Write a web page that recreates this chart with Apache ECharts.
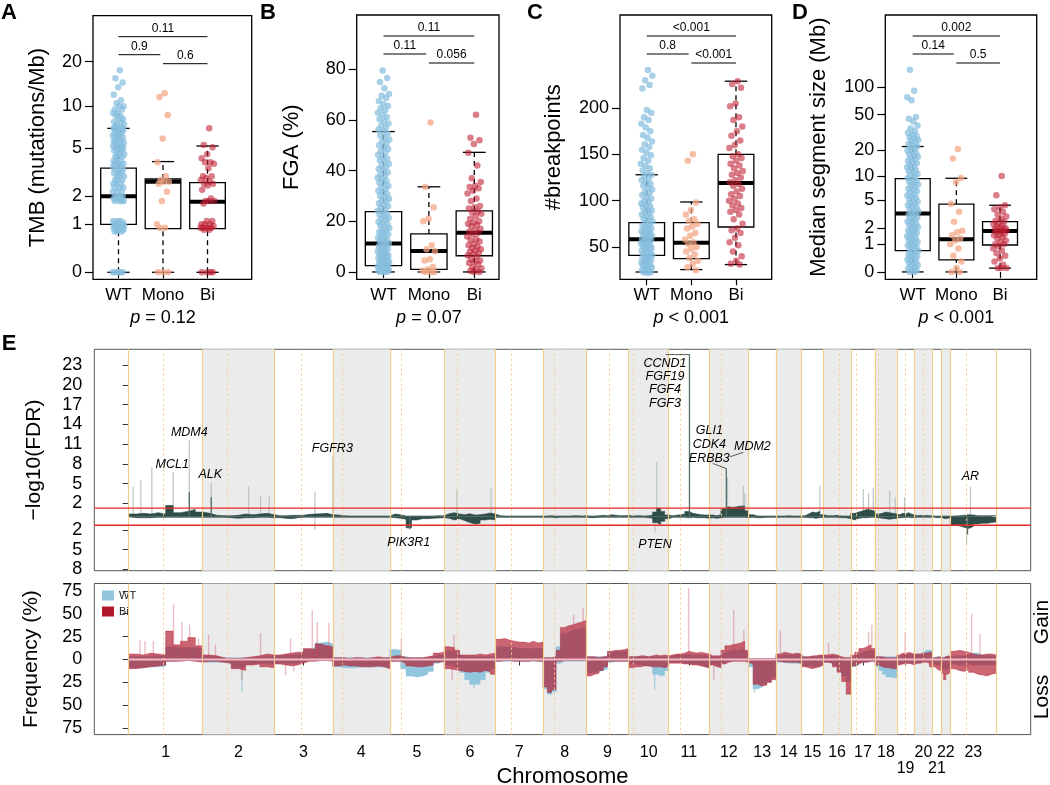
<!DOCTYPE html>
<html><head><meta charset="utf-8">
<script src="https://cdn.jsdelivr.net/npm/echarts@6/dist/echarts.min.js"></script>
<style>html,body{margin:0;padding:0;background:#fff}#c{width:1050px;height:785px}</style>
</head><body><div id="c"></div>
<script>
// ================= DATA =================
const groups = ['WT', 'Mono', 'Bi'];

// ---- Panel A: TMB (mutations/Mb) ----
const tmbTicks = [0, 1, 2, 5, 10, 20];
const tmbBox = [[0, 1.0, 2.0, 3.5, 7.0], [0, 0.88, 2.7, 2.85, 3.95], [0, 0.88, 1.77, 2.65, 5.2]];
const tmbWT = [17.5,15.5,14.5,13.5,12,11,10.5,10,10,9.5,9.5,9,9,8.6,8.6,8.2,8.2,7.8,7.8,7.5,7.5,7.2,7.2,7,7,7,
 6.8,6.8,6.8,6.5,6.5,6.5,6.2,6.2,6.2,6,6,6,5.7,5.7,5.7,5.5,5.5,5.5,5.2,5.2,5.2,5,5,5,4.8,4.8,4.8,4.5,4.5,4.5,
 4.3,4.3,4.3,4,4,4,3.8,3.8,3.8,3.6,3.6,3.6,3.4,3.4,3.4,3.2,3.2,3.2,3,3,3,2.8,2.8,2.8,2.6,2.6,2.6,2.4,2.4,2.4,
 2.2,2.2,2.2,2,2,2,2,1.9,1.9,1.9,1.8,1.8,1.8,1.8,1.1,1.1,1.1,1.05,1.05,1,1,1,1,0.95,0.95,0.95,0.9,0.9,0.9,0.9,
 0.85,0.85,0.85,0.8,0.8,0.8,0,0,0,0,0];
const tmbMono = [12.3,11.6,8.7,5.9,3.9,3.0,2.8,2.7,2.7,2.6,2.2,1.8,1.0,0.9,0.9,0,0,0];
const tmbBi = [7.0,5.3,5.1,4.5,4.2,3.9,3.9,3.8,3.5,3.0,3.0,2.9,2.8,2.7,2.6,2.6,2.5,2.3,1.9,1.8,1.8,1.8,1.7,1.1,1.1,1.0,1.0,1.0,0.95,0.9,0.9,0.9,0.9,0.9,0.85,0.85,0,0,0,0];
const tmbPairs = [['0.11', 1, 3], ['0.9', 1, 2], ['0.6', 2, 3]];

// ---- Panel B: FGA (%) ----
const fgaTicks = [0, 20, 40, 60, 80];
const fgaBox = [[0, 2.5, 11.2, 23.8, 55.4], [0, 1.0, 8.3, 15, 33.6], [0, 6.4, 15.5, 24.1, 47.2]];
const fgaWT = [0,0,0.1,0.3,0.4,0.6,0.8,1,1.1,1.3,1.6,1.8,2,2.2,2.5,2.7,3,3.2,3.5,3.8,4,4.3,4.6,4.9,5.2,5.5,5.8,6.1,6.4,6.8,
 7.1,7.5,7.8,8.2,8.6,9,9.3,9.7,10.1,10.5,10.9,11.3,11.8,12.2,12.6,13.1,13.5,14,14.4,14.9,15.4,15.8,16.3,16.8,17.3,17.8,
 18.3,18.8,19.3,19.8,20.4,20.9,21.4,22,22.5,23.1,23.6,24.2,24.8,25.3,25.9,26.5,27.1,27.7,28.3,28.9,29.5,30.1,30.7,31.4,
 32,32.6,33.3,33.9,34.6,35.2,35.9,36.5,37.2,37.9,38.5,39.2,39.9,40.6,41.3,42,42.7,43.4,44.1,44.8,45.5,46.3,47,47.7,48.5,
 49.2,50,50.7,51.5,52.3,53,53.8,54.6,55.4,56.2,57,57.8,58.6,59.5,60.3,61.1,62,62.8,63.7,64.6,65.5,66.3,67.5,68.6,69.5,
 70.2,72.5,75,76.5,79.5];
const fgaMono = [59,33.5,25.5,21,20,10.5,9,8.2,5,4.5,2,1,0.5,0,0,0];
const fgaBi = [62,53,52,50.5,47,42,37,35.5,34,33.5,33,32,31,29,28,26,25.5,25,24,23.5,23,22,21,20,19.5,19,18.5,18,17,16.5,16,15.5,15,14,13,12.5,12,11,10.5,10,9.5,9,8.5,8,7.5,7,6.5,6,5,4.5,4,3.5,3,2,1.5,1,0.5,0,0];
const fgaPairs = [['0.11', 1, 3], ['0.11', 1, 2], ['0.056', 2, 3]];

// ---- Panel C: #breakpoints ----
const bpTicks = [50, 100, 150, 200];
const bpBox = [[23, 41, 58.3, 76.3, 128], [25.6, 37.5, 54.7, 76.3, 98.6], [31, 71.6, 119, 150, 229]];
const bpWT = [22,22.5,23,24,25,26,27,28,29,30,31,32,33,34,35,36,37,38,39,40,41,42,43,44,45,46,47,48,49,50,51,52,53,54,55,
 56,57,58,59,60,61,62,63,64,65,66,67,68,69,70,71.5,73,74.5,76,77.5,79,80.5,82,83.5,85,86.5,88,89.5,91,92.5,94,95.5,97,
 98.5,100,102,104,106,108,110,112,114,116,118,120,122,124,126,128,130,132.5,135,137.5,140,143,146,149,152,155,158,161,
 164,168,171,175,179,183,187,190,195,198,221,225,230,235,241];
const bpMono = [150,143,98,90,85,80,78,75,72,70,65,62,58,55,53,50,48,45,42,38,35,32,28,25];
const bpBi = [229,226,222,205,202,190,187,180,175,170,165,160,157,150,148,146,143,140,138,135,132,130,128,125,122,120,118,116,113,110,107,105,102,100,97,95,92,90,88,85,80,75,70,68,65,60,55,52,45,40,35,32,31];
const bpPairs = [['<0.001', 1, 3], ['0.8', 1, 2], ['<0.001', 2, 3]];

// ---- Panel D: Median segment size (Mb) ----
const segTicks = [0, 1, 2, 5, 10, 20, 50, 100];
const segBox = [[0, 0.7, 3.3, 9.3, 22], [0, 0.35, 1.27, 4.44, 9.4], [0.1, 0.96, 1.79, 2.52, 4.3]];
const segWT = [0,0,0.03,0.06,0.09,0.12,0.15,0.18,0.22,0.25,0.29,0.32,0.36,0.4,0.44,0.48,0.52,0.56,0.6,0.65,0.7,0.74,0.79,
 0.84,0.89,0.95,1.0,1.06,1.12,1.18,1.24,1.3,1.37,1.44,1.51,1.58,1.66,1.73,1.81,1.9,1.98,2.07,2.16,2.26,2.36,2.46,2.56,2.67,
 2.78,2.9,3.02,3.14,3.27,3.4,3.54,3.68,3.83,3.98,4.14,4.3,4.47,4.64,4.82,5.0,5.2,5.4,5.6,5.8,6.0,6.3,6.5,6.8,7.0,7.3,7.6,
 7.9,8.2,8.5,8.8,9.1,9.5,9.8,10.2,10.6,11.0,11.4,11.8,12.2,12.7,13.1,13.6,14.1,14.6,15.1,15.7,16.2,16.8,17.4,18.0,18.6,
 19.3,20,20.7,21.4,22.1,22.9,23.7,24.5,25.4,26.3,27.2,28.1,29,30,31.5,33,35,38,42,45,47,72,78,92,156];
const segMono = [20.6,16,9.5,8.5,4.5,3.5,2.5,1.8,1.7,1.5,1.3,1.2,1.0,0.8,0.5,0.3,0.1,0,0];
const segBi = [10,5.8,4.3,4,3.8,3.5,3.2,3,2.8,2.6,2.5,2.4,2.3,2.2,2.1,2,2,1.9,1.9,1.8,1.8,1.7,1.7,1.6,1.5,1.5,1.4,1.3,1.2,1.1,1.0,1.0,0.9,0.8,0.7,0.6,0.5,0.4,0.3,0.2,0.1,0.1,0.1];
const segPairs = [['0.002', 1, 3], ['0.14', 1, 2], ['0.5', 2, 3]];

const overallP = ['= 0.12', '= 0.07', '< 0.001', '< 0.001'];

// ---- Panel E: genome ----
const chrNames = ['1','2','3','4','5','6','7','8','9','10','11','12','13','14','15','16','17','18','19','20','21','22','23'];
const chrLen = [249,241,197,192,183,173,160,146,142,135,136,133,92,86,74,92,82,73,59,61,30,30,155];
const centro = [118,82,90,32,39,44,54,38,76,15,39,40,null,null,null,53,18,10,29,30,null,null,55];
const fdrThreshold = 1.3;
const fdrTicks = [-8,-5,-2,2,5,8,11,14,17,20,23];
const freqTicks = [-75,-50,-25,0,25,50,75];

const fdrGain = [
 [0.4,0.5,0.4,0.6,0.4,1.7,0.6,0.8,1.1,0.7],[0.5,0.2,0.15,0.15,0.2,0.4,0.3,0.4,0.5,0.3],
 [0.15,0.15,0.2,0.2,0.2,0.35,0.4,0.45,0.5,0.3],[0.25,0.15,0.1,0.1,0.1,0.1,0.1,0.1,0.1,0.1],
 [0.4,0.3,0.1,0.1,0.1,0.1,0.1,0.1,0.15,0.15],[0.45,0.6,0.4,0.3,0.45,0.25,0.3,0.4,0.55,0.4],
 [0.15,0.1,0.1,0.1,0.1,0.1,0.1,0.1,0.1,0.1],[0.1,0.15,0.1,0.1,0.1,0.1,0.15,0.15,0.1,0.15],
 [0.1,0.1,0.15,0.2,0.15,0.3,0.2,0.15,0.15,0.2],[0.1,0.15,0.15,0.1,0.15,0.25,0.7,1.3,0.8,0.25],
 [0.15,0.2,0.3,0.4,0.8,0.5,0.4,0.3,0.25,0.25],[0.25,0.15,0.3,1.2,1.5,1.4,1.5,1.6,1.6,0.9],
 [0.3,0.1,0.1,0.1,0.1,0.1],[0.1,0.1,0.15,0.1,0.1,0.1],[0.15,0.4,0.7,0.6,0.8,0.3],
 [0.15,0.15,0.2,0.1,0.1,0.1],[0.5,0.7,0.9,1.1,1.0,0.8],[0.4,0.5,0.7,0.6,0.5,0.4],
 [0.3,0.5,0.4,0.6,0.4,0.25],[0.15,0.2,0.15,0.2,0.15,0.15],[0.1,0.1,0.1,0.1],[0.1,0.1,0.1,0.1],
 [0.1,0.15,0.2,0.3,0.25,0.15,0.15,0.15,0.15,0.2]
];
const fdrLoss = [
 [0.15,0.15,0.15,0.1,0.1,0.1,0.1,0.1,0.1,0.1],[0.1,0.1,0.1,0.15,0.25,0.15,0.15,0.1,0.1,0.15],
 [0.15,0.25,0.3,0.15,0.1,0.1,0.1,0.1,0.1,0.1],[0.1,0.1,0.1,0.1,0.1,0.1,0.1,0.1,0.1,0.1],
 [0.15,0.25,0.4,1.7,0.5,0.3,0.3,0.25,0.2,0.15],[0.25,0.5,0.3,0.6,0.9,1.1,1.0,0.5,0.4,0.5],
 [0.1,0.1,0.1,0.1,0.1,0.1,0.1,0.1,0.1,0.1],[0.1,0.1,0.15,0.1,0.1,0.1,0.1,0.1,0.1,0.1],
 [0.15,0.15,0.1,0.1,0.1,0.1,0.1,0.1,0.1,0.1],[0.1,0.1,0.1,0.1,0.15,0.25,0.9,1.2,0.7,0.3],
 [0.1,0.1,0.1,0.1,0.15,0.1,0.15,0.15,0.15,0.25],[0.15,0.25,0.15,0.1,0.1,0.1,0.1,0.1,0.1,0.15],
 [0.1,0.15,0.15,0.1,0.1,0.1],[0.1,0.1,0.1,0.1,0.1,0.1],[0.1,0.15,0.15,0.25,0.15,0.1],
 [0.1,0.1,0.1,0.15,0.15,0.3],[0.5,0.25,0.15,0.15,0.1,0.1],[0.15,0.25,0.3,0.4,0.3,0.25],
 [0.15,0.15,0.1,0.1,0.15,0.15],[0.1,0.1,0.1,0.1,0.1,0.1],[0.1,0.15,0.15,0.1],[0.25,0.3,0.25,0.15],
 [1.3,1.4,1.6,1.8,1.5,1.1,1.0,1.0,0.9,0.8]
];
// [chromosome, position (Mb), -log10(FDR) (negative = loss)]
const fdrSpikesLight = [
 [1,15,4.5],[1,41,5.5],[1,78,7.5],[1,150,6.7],[1,204,11.6],[2,29,5.1],[2,155,4.6],[2,195,3.2],[2,224,3.1],
 [3,137,3.8],[3,137,-2.0],[6,43,4.2],[6,158,4.4],[10,95,8.3],[10,89,-2.4],[12,62,6.0],[12,115,4.7],
 [12,120,3.6],[15,62,4.7],[17,42,4.2],[17,60,3.5],[17,76,4.4],[18,49,3.9],[18,68,3.0],[19,26,3.0],
 [23,68,4.5],[23,55,-4.3]
];
const fdrSpikesDark = [[1,204,3.7],[2,29,3.0],[4,2,9.1],[11,70,24.6],[12,58,7.3],[23,58,-2.7],[5,67,-1.9]];
const geneLabels = [
 ['MDM4',1,204,11.6],['MCL1',1,150,6.7],['ALK',2,29,5.1],['FGFR3',4,2,9.1],['PIK3R1',5,67,-1.7],
 ['PTEN',10,89,-2.4],['CCND1\nFGF19\nFGF4\nFGF3',11,70,24.6],['GLI1\nCDK4\nERBB3',12,58,7.3],
 ['MDM2',12,70,9.1],['AR',23,68,4.5]
];

// Frequency (%) per chromosome bins
const wtGain = [
 [3,3,4,4,4,14,13,13,13,12],[4,3,2,2,2,2,2,3,4,4],[4,5,5,6,7,11,13,18,19,17],[2,2,2,2,2,2,2,2,2,2],
 [11,10,3,2,2,2,2,3,5,5],[9,9,7,4,3,3,3,3,3,3],[14,14,13,13,12,12,12,12,12,12],[2,2,3,14,28,30,32,33,34,35],
 [3,3,3,3,4,8,9,9,9,10],[3,3,3,3,3,3,3,3,3,3],[4,5,5,5,6,5,5,5,5,4],[3,3,3,7,9,10,10,11,11,8],
 [1,1,1,1,1,1],[4,5,5,5,5,5],[3,3,3,3,4,4],[4,4,4,2,2,2],[4,6,8,9,10,9],[3,3,3,3,3,3],
 [4,5,5,6,6,5],[6,6,8,10,10,10],[2,3,3,3],[2,3,3,3],[4,4,4,5,7,7,5,4,4,4]
];
const wtLoss = [
 [9,9,8,8,7,2,1,1,1,2],[3,3,3,5,9,8,5,4,5,5],[4,5,5,4,3,1,1,1,1,1],[8,9,9,9,8,8,8,8,8,9],
 [2,2,10,18,19,18,16,13,4,2],[6,7,9,14,22,27,27,22,14,10],[2,2,2,2,2,2,2,2,2,2],[32,38,35,4,2,2,2,2,2,2],
 [15,14,13,12,10,3,2,2,2,2],[5,5,6,6,7,8,16,18,17,12],[3,3,3,4,4,5,5,6,8,9],[5,6,7,4,2,2,1,1,1,2],
 [8,32,30,27,24,20],[3,3,4,4,4,4],[7,7,8,8,7,6],[3,4,7,12,18,24],[8,6,3,3,2,2],[8,12,16,19,20,20],
 [5,4,4,4,4,5],[4,4,2,2,2,3],[5,6,6,6],[10,11,11,10],[5,6,6,5,6,6,6,6,6,6]
];
const biGain = [
 [6,5,7,6,5,31,16,20,24,15],[5,4,2,1,1,2,3,4,6,5],[5,6,7,8,8,12,11,17,15,14],[2,2,1,2,2,1,2,3,2,2],
 [4,4,2,2,2,2,3,4,7,8],[14,13,10,5,5,5,6,5,6,7],[22,23,21,20,19,19,18,20,18,19],[2,2,3,10,35,37,38,40,41,43],
 [3,3,2,3,3,9,10,10,11,12],[3,3,4,4,3,4,5,4,5,4],[5,6,6,7,9,8,7,8,7,6],[4,4,4,10,15,16,17,18,20,10],
 [1,1,1,1,1,1],[6,8,7,6,7,6],[3,3,4,4,5,5],[5,6,5,3,2,2],[5,8,12,14,16,12],[3,3,2,2,2,2],
 [5,7,6,8,7,6],[6,6,7,7,8,8],[2,2,3,2],[2,3,4,3],[9,10,9,8,6,5,5,6,6,5]
];
const biLoss = [
 [10,9,8,7,6,2,2,1,2,3],[2,2,3,4,10,12,6,5,8,9],[5,6,7,6,4,2,2,1,1,2],[7,6,7,7,8,8,8,7,8,10],
 [2,2,4,7,8,8,7,6,3,2],[10,11,12,13,14,13,14,12,13,16],[2,1,1,2,2,2,2,1,2,2],[30,36,33,2,1,1,1,1,1,1],
 [18,16,15,12,8,2,2,2,2,2],[9,8,8,7,7,8,8,8,9,7],[4,4,4,5,5,6,6,7,8,9],[6,8,9,5,3,2,2,2,2,3],
 [5,27,29,28,25,22],[2,3,3,3,3,4],[8,9,10,9,8,6],[3,4,8,14,24,38],[7,5,3,3,2,2],[6,8,9,9,10,10],
 [6,5,5,4,5,6],[4,4,3,3,4,8],[8,10,12,11],[15,22,16,14],[10,12,13,11,14,16,17,18,16,15]
];
// [chromosome, position (Mb), frequency (%) (negative = loss)]
const biSpikes = [
 [1,38,21],[1,55,20],[1,83,20],[1,151,60],[1,179,41],[1,205,38],[1,235,23],[2,20,27],[2,43,16],[2,195,29],
 [2,132,-22],[3,55,23],[3,128,54],[3,145,41],[3,184,40],[3,38,-17],[3,66,-13],[5,39,23],[6,33,27],[6,27,-22],
 [8,103,49],[8,135,56],[11,67,78],[12,83,54],[12,117,32],[12,16,-22],[14,15,32],[16,17,18],[17,71,38],
 [17,60,30],[19,28,30],[23,72,50],[23,100,28]
];
const wtSpikes = [[2,132,-35],[10,88,-33],[6,100,-32],[13,20,-36]];

// ================= BUILD =================
const FONT = "'Liberation Sans', Arial, Helvetica, sans-serif";
const logp1 = v => Math.log10(v + 1);
const lin = v => v;
const jit = i => ((i * 0.6180339887498949) % 1) - 0.5;

const chrStart = []; let acc = 0;
chrLen.forEach(l => { chrStart.push(acc); acc += l; });
const genomeLen = acc;
const gpad = genomeLen * 34.4 / 867.6;
const gx = (c, pos) => chrStart[c - 1] + pos;
const chrCenters = chrLen.map((l, i) => chrStart[i] + l / 2);

const panels = [
 {name:'TMB (mutations/Mb)', tf:logp1, ticks:tmbTicks, box:tmbBox, pts:[tmbWT,tmbMono,tmbBi], pairs:tmbPairs},
 {name:'FGA (%)', tf:lin, ticks:fgaTicks, box:fgaBox, pts:[fgaWT,fgaMono,fgaBi], pairs:fgaPairs},
 {name:'#breakpoints', tf:lin, ticks:bpTicks, box:bpBox, pts:[bpWT,bpMono,bpBi], pairs:bpPairs},
 {name:'Median segment size (Mb)', tf:logp1, ticks:segTicks, box:segBox, pts:[segWT,segMono,segBi], pairs:segPairs}
];
const pLayout = [
 {left:93, top:15.7, width:158.7, height:263.6, xmin:0.427, xmax:3.993, ymin:-0.044, ymax:1.61, gap:44},
 {left:356.7, top:15, width:142.3, height:264.3, xmin:0.41, xmax:3.544, ymin:-2.9, ymax:101.4, gap:54},
 {left:620, top:15, width:151.7, height:264.3, xmin:0.402, xmax:3.8, ymin:15.1, ymax:300.5, gap:55},
 {left:885.3, top:15, width:151.4, height:264.3, xmin:0.372, xmax:3.84, ymin:-0.08, ymax:2.79, gap:55}
];
const bracketOffsets = [21, 39, 48];
const ptColors = ['rgba(135,190,222,0.9)', 'rgba(244,165,130,0.9)', 'rgba(190,30,50,0.72)'];
const jitAmp = [0.13, 0.15, 0.16];

const grids = [], xAxes = [], yAxes = [], series = [];

panels.forEach((p, k) => {
  const L = pLayout[k];
  grids.push({left:L.left, top:L.top, width:L.width, height:L.height, show:true, borderColor:'#000', borderWidth:1.3, containLabel:false, outerBoundsMode:'none'});
  xAxes.push({gridIndex:k, type:'value', min:L.xmin, max:L.xmax, splitLine:{show:false}, axisLine:{show:false},
    axisTick:{show:true, length:6, customValues:[1,2,3], lineStyle:{color:'#000', width:1.2}},
    axisLabel:{customValues:[1,2,3], formatter: v => groups[Math.round(v) - 1], fontSize:17, color:'#000', margin:8, fontFamily:FONT}});
  const tv = p.ticks.map(p.tf);
  yAxes.push({gridIndex:k, type:'value', min:L.ymin, max:L.ymax, splitLine:{show:false}, axisLine:{show:false},
    axisTick:{show:true, length:8, customValues:tv, lineStyle:{color:'#000', width:1.2}},
    axisLabel:{customValues:tv, fontSize:18, color:'#000', margin:11, fontFamily:FONT,
      formatter: v => { const i = tv.findIndex(t => Math.abs(t - v) < 1e-6); return i >= 0 ? String(p.ticks[i]) : ''; }},
    name:p.name, nameLocation:'middle', nameGap:L.gap, nameRotate:90, nameMoveOverlap:false,
    nameTextStyle:{fontSize:22, color:'#000', fontFamily:FONT}});
  series.push({type:'custom', xAxisIndex:k, yAxisIndex:k, z:2, clip:false, silent:true,
    data: p.box.map((b, i) => [i + 1].concat(b.map(p.tf))),
    renderItem: (params, api) => {
      const x = api.value(0), hw = 0.4, cw = 0.25;
      const yMin = api.coord([x, api.value(1)])[1], yQ1 = api.coord([x, api.value(2)])[1];
      const yMed = api.coord([x, api.value(3)])[1], yQ3 = api.coord([x, api.value(4)])[1];
      const yMax = api.coord([x, api.value(5)])[1];
      const xc = api.coord([x, 0])[0], xl = api.coord([x - hw, 0])[0], xr = api.coord([x + hw, 0])[0];
      const cl = api.coord([x - cw, 0])[0], cr = api.coord([x + cw, 0])[0];
      const dash = {stroke:'#000', lineWidth:1.3, lineDash:[5, 4]}, solid = {stroke:'#000', lineWidth:1.3};
      return {type:'group', children:[
        {type:'line', shape:{x1:xc, y1:yMin, x2:xc, y2:yQ1}, style:dash},
        {type:'line', shape:{x1:xc, y1:yQ3, x2:xc, y2:yMax}, style:dash},
        {type:'line', shape:{x1:cl, y1:yMin, x2:cr, y2:yMin}, style:solid},
        {type:'line', shape:{x1:cl, y1:yMax, x2:cr, y2:yMax}, style:solid},
        {type:'rect', shape:{x:xl, y:yQ3, width:xr - xl, height:yQ1 - yQ3}, style:{fill:'#fff', stroke:'#000', lineWidth:1.3}},
        {type:'line', shape:{x1:xl, y1:yMed, x2:xr, y2:yMed}, style:{stroke:'#000', lineWidth:4}}
      ]};
    }});
  p.pts.forEach((vals, g) => {
    series.push({type:'scatter', name:groups[g] + '_' + k, xAxisIndex:k, yAxisIndex:k, z:3, silent:true,
      symbol:'circle', symbolSize:6.5, itemStyle:{color:ptColors[g]},
      data: vals.map((v, i) => [g + 1 + 2 * jitAmp[g] * jit(i + 1), p.tf(v)])});
  });
  series.push({type:'custom', xAxisIndex:k, yAxisIndex:k, z:4, clip:false, silent:true,
    data: p.pairs.map(q => [q[1], q[2] - (q[2] === 2 ? 0.06 : 0)]),
    renderItem: (params, api) => {
      const i = params.dataIndex, cs = params.coordSys;
      const x1 = api.coord([api.value(0), 0])[0], x2 = api.coord([api.value(1), 0])[0];
      const y = cs.y + bracketOffsets[i];
      return {type:'group', children:[
        {type:'line', shape:{x1:x1, y1:y, x2:x2, y2:y}, style:{stroke:'#000', lineWidth:1}},
        {type:'text', x:(x1 + x2) / 2, y:y - 2, style:{text:p.pairs[i][0], fontSize:12, fontFamily:FONT, fill:'#000', align:'center', verticalAlign:'bottom'}}
      ]};
    }});
  series.push({type:'custom', xAxisIndex:k, yAxisIndex:k, z:4, clip:false, silent:true, data:[[2, 0]],
    renderItem: (params, api) => {
      const cs = params.coordSys, x = api.coord([api.value(0), 0])[0];
      return {type:'text', x:x, y:cs.y + cs.height + 39, style:{text:'{i|p} ' + overallP[k], rich:{i:{fontStyle:'italic', fontSize:18, fontFamily:FONT}},
        fontSize:18, fontFamily:FONT, fill:'#000', align:'center', verticalAlign:'middle'}};
    }});
});

// ---- Panel E grids ----
const eLeft = 94.3, eWidth = 936.4;
grids.push({left:eLeft, top:349.3, width:eWidth, height:221.4, show:true, borderColor:'#555', borderWidth:1, containLabel:false, outerBoundsMode:'none'});
grids.push({left:eLeft, top:583.5, width:eWidth, height:151.1, show:true, borderColor:'#555', borderWidth:1, containLabel:false, outerBoundsMode:'none'});
xAxes.push({gridIndex:4, type:'value', min:-gpad, max:genomeLen + gpad, splitLine:{show:false}, axisLine:{show:false}, axisTick:{show:false}, axisLabel:{show:false}});
xAxes.push({gridIndex:5, type:'value', min:-gpad, max:genomeLen + gpad, splitLine:{show:false}, axisLine:{show:false},
  axisTick:{show:true, length:6, customValues:chrCenters, lineStyle:{color:'#333', width:1}},
  axisLabel:{customValues:chrCenters, fontSize:16, color:'#000', margin:10, lineHeight:16, fontFamily:FONT,
    formatter: v => { const i = chrCenters.findIndex(c => Math.abs(c - v) < 1e-6); if (i < 0) return ''; const n = chrNames[i]; return (n === '19' || n === '21') ? '\n' + n : n; }},
  name:'Chromosome', nameLocation:'middle', nameGap:31, nameMoveOverlap:false, nameTextStyle:{fontSize:22, color:'#000', fontFamily:FONT}});
yAxes.push({gridIndex:4, type:'value', min:-8.2, max:25.4, splitLine:{show:false}, axisLine:{show:false},
  axisTick:{show:true, length:6, customValues:fdrTicks, lineStyle:{color:'#333'}},
  axisLabel:{customValues:fdrTicks, formatter: v => String(Math.abs(Math.round(v))), fontSize:18, color:'#000', margin:12, fontFamily:FONT},
  name:'\u2212log10(FDR)', nameLocation:'middle', nameGap:50, nameRotate:90, nameMoveOverlap:false, nameTextStyle:{fontSize:21, color:'#000', fontFamily:FONT}});
yAxes.push({gridIndex:5, type:'value', min:-82, max:83, splitLine:{show:false}, axisLine:{show:false},
  axisTick:{show:true, length:6, customValues:freqTicks, lineStyle:{color:'#333'}},
  axisLabel:{customValues:freqTicks, formatter: v => String(Math.abs(Math.round(v))), fontSize:18, color:'#000', margin:12, fontFamily:FONT},
  name:'Frequency (%)', nameLocation:'middle', nameGap:53, nameRotate:90, nameMoveOverlap:false, nameTextStyle:{fontSize:21, color:'#000', fontFamily:FONT}});

const BOUND = '#f2cd8c';
const shade = [], bounds = [];
chrLen.forEach((l, i) => {
  if (i % 2 === 1) shade.push([{xAxis:chrStart[i]}, {xAxis:chrStart[i] + l}]);
  bounds.push({xAxis:chrStart[i], lineStyle:{type:'solid', width:1.2, color:BOUND}});
  if (centro[i] !== null) bounds.push({xAxis:chrStart[i] + centro[i], lineStyle:{type:[2, 3], width:1, color:BOUND}});
});
bounds.push({xAxis:genomeLen, lineStyle:{type:'solid', width:1.2, color:BOUND}});
[4, 5].forEach(gi => {
  series.push({type:'line', xAxisIndex:gi, yAxisIndex:gi, z:1, silent:true, data:[[0, 0]], showSymbol:false, lineStyle:{opacity:0},
    markArea:{silent:true, itemStyle:{color:'#ebebeb'}, data:shade},
    markLine:{silent:true, symbol:'none', label:{show:false}, data:bounds}});
});

function stepData(bins, sign) {
  const pts = [[0, 0]];
  bins.forEach((arr, c) => {
    const n = arr.length, s = chrStart[c], L = chrLen[c];
    arr.forEach((v, b) => { pts.push([s + b * L / n, sign * v]); pts.push([s + (b + 1) * L / n, sign * v]); });
  });
  pts.push([genomeLen, 0]);
  return pts;
}
function areaSeries(name, gi, bins, sign, line, fill, z) {
  return {type:'line', name:name, xAxisIndex:gi, yAxisIndex:gi, z:z, silent:true, showSymbol:false, symbol:'none',
    data:stepData(bins, sign), itemStyle:{color:line}, lineStyle:{width:0.6, color:fill}, areaStyle:{color:fill, opacity:1}};
}
function spikeSeries(gi, list, color, width, z) {
  return {type:'custom', xAxisIndex:gi, yAxisIndex:gi, z:z, silent:true, clip:true,
    data:list.map(s => [gx(s[0], s[1]), s[2]]),
    renderItem:(params, api) => {
      const p0 = api.coord([api.value(0), 0]), p1 = api.coord([api.value(0), api.value(1)]);
      return {type:'line', shape:{x1:p0[0], y1:p0[1], x2:p1[0], y2:p1[1]}, style:{stroke:color, lineWidth:width}};
    }};
}

// FDR plot
series.push(spikeSeries(4, fdrSpikesLight, '#b8c4c3', 1.2, 2));
series.push(areaSeries('fdrGain', 4, fdrGain, 1, '#2e4c48', '#2e4c48', 3));
series.push(areaSeries('fdrLoss', 4, fdrLoss, -1, '#2e4c48', '#2e4c48', 3));
series.push(spikeSeries(4, fdrSpikesDark, '#55706c', 1.3, 4));
// significance threshold lines (FDR = 0.05) for gains and losses
series.push({type:'custom', xAxisIndex:4, yAxisIndex:4, z:8, silent:true, clip:false,
  data:[[0, fdrThreshold], [0, -fdrThreshold]],
  renderItem:(params, api) => {
    const cs = params.coordSys, y = api.coord([0, api.value(1)])[1];
    return {type:'line', shape:{x1:cs.x, y1:y, x2:cs.x + cs.width, y2:y}, style:{stroke:'#ee2b26', lineWidth:1.3}};
  }});
const geneLayout = [
 {dx:0, dy:-1, va:'bottom'}, {dx:-1, dy:-1, va:'bottom'}, {dx:-1, dy:-2, va:'bottom'}, {dx:-1, dy:-1, va:'bottom'},
 {dx:-1, dy:8, va:'top'}, {dx:0, dy:5, va:'top'},
 {dx:-24.5, dy:2, va:'top', lh:13.3, leader:[-23.6, 0, 0, 0]},
 {dx:-17, dy:-45.5, va:'top', lh:14.3, leader:[-13.5, -5.1, 0, 0]},
 {dx:22.5, dy:-10.2, va:'middle', leader:[0.4, 0, 13.4, -4.4]},
 {dx:0, dy:-4, va:'bottom'}
];
series.push({type:'custom', xAxisIndex:4, yAxisIndex:4, z:7, silent:true, clip:false,
  data:geneLabels.map(g => [gx(g[1], g[2]), g[3]]),
  renderItem:(params, api) => {
    const i = params.dataIndex, Lo = geneLayout[i];
    const a = api.coord([api.value(0), api.value(1)]);
    const kids = [{type:'text', x:a[0] + Lo.dx, y:a[1] + Lo.dy, style:{text:geneLabels[i][0], fontStyle:'italic', fontSize:12.5, fontFamily:FONT,
      fill:'#000', align:'center', verticalAlign:Lo.va, lineHeight:Lo.lh || 14}}];
    if (Lo.leader) kids.push({type:'line', shape:{x1:a[0] + Lo.leader[0], y1:a[1] + Lo.leader[1], x2:a[0] + Lo.leader[2], y2:a[1] + Lo.leader[3]},
      style:{stroke:'#333', lineWidth:0.8}});
    return {type:'group', children:kids};
  }});

// Frequency plot
const WTC = '#92c5de', BIC = 'rgba(178,28,48,0.68)';
series.push(areaSeries('WT', 5, wtGain, 1, WTC, WTC, 2));
series.push(areaSeries('WT', 5, wtLoss, -1, WTC, WTC, 2));
series.push(spikeSeries(5, wtSpikes, 'rgba(146,197,222,0.8)', 1.2, 2));
series.push(areaSeries('Bi', 5, biGain, 1, '#b2182b', BIC, 3));
series.push(areaSeries('Bi', 5, biLoss, -1, '#b2182b', BIC, 3));
series.push(spikeSeries(5, biSpikes, 'rgba(200,70,90,0.35)', 1.4, 3));
series.push({type:'custom', xAxisIndex:5, yAxisIndex:5, z:6, silent:true, clip:false,
  data:[[0, 0, genomeLen]],
  renderItem:(params, api) => {
    const a = api.coord([api.value(0), api.value(1)]), b = api.coord([api.value(2), api.value(1)]);
    return {type:'line', shape:{x1:a[0], y1:a[1], x2:b[0], y2:b[1]}, style:{stroke:'#f2bcc5', lineWidth:2}};
  }});

const letter = (t, x, y) => ({type:'text', x:x, y:y, style:{text:t, font:'bold 22px ' + FONT, fill:'#000', align:'center', verticalAlign:'middle'}});
const option = {
  animation:false,
  textStyle:{fontFamily:FONT},
  grid:grids, xAxis:xAxes, yAxis:yAxes, series:series,
  legend:{data:[{name:'WT', icon:'rect'}, {name:'Bi', icon:'rect'}], left:97, top:585, orient:'vertical', itemWidth:12, itemHeight:10, itemGap:5,
    selectedMode:false, textStyle:{fontSize:11, color:'#222', fontFamily:FONT}},
  graphic:[
    letter('A', 9, 13), letter('B', 268, 13), letter('C', 535, 13), letter('D', 800, 13), letter('E', 9, 344),
    {type:'text', x:1042, y:622, rotation:Math.PI / 2, style:{text:'Gain', font:'21px ' + FONT, fill:'#000', align:'center', verticalAlign:'middle'}},
    {type:'text', x:1042, y:697, rotation:Math.PI / 2, style:{text:'Loss', font:'21px ' + FONT, fill:'#000', align:'center', verticalAlign:'middle'}}
  ]
};
const chart = echarts.init(document.getElementById('c'), null, {renderer:'canvas'});
chart.setOption(option);
</script></body></html>
